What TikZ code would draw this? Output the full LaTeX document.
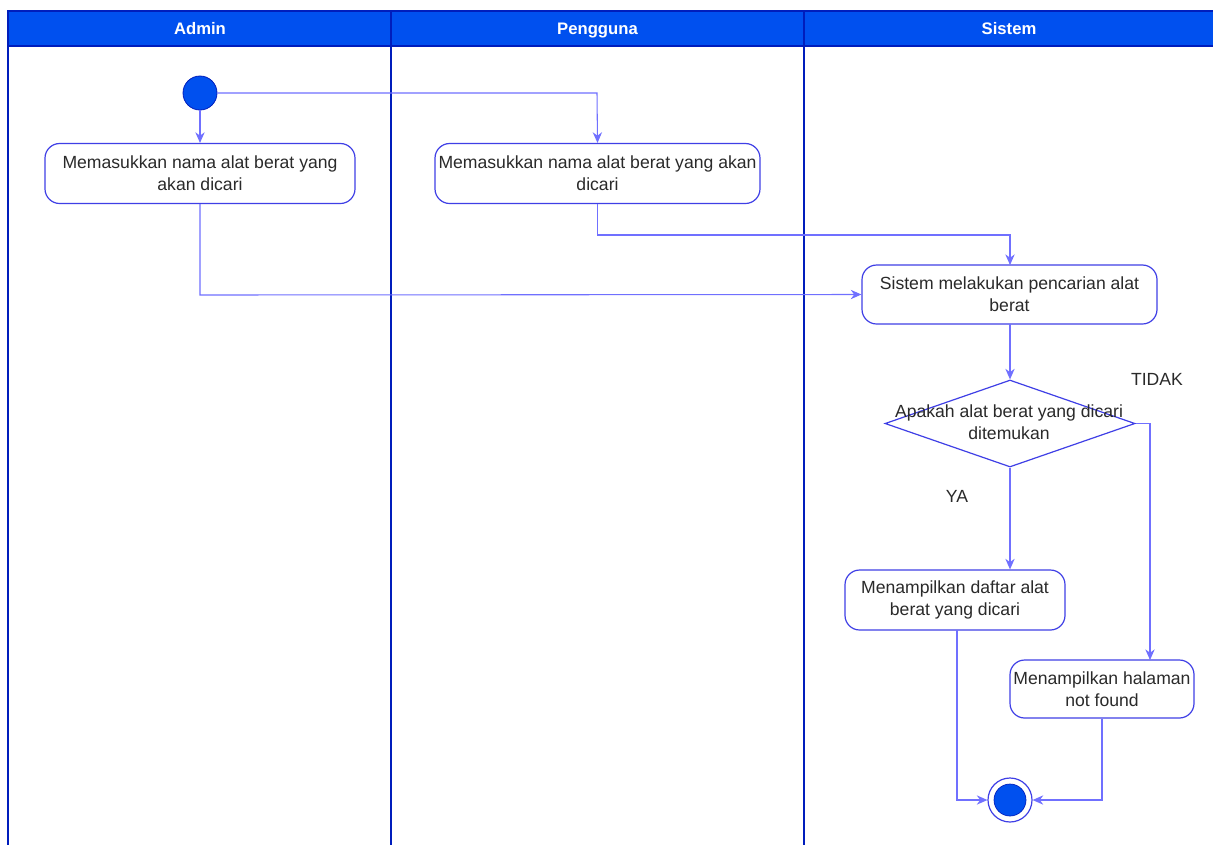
\documentclass[tikz,border=0pt]{standalone}
\usepackage{fontspec}
\setmainfont{Liberation Sans}
\usetikzlibrary{shapes.geometric,arrows.meta}
\definecolor{hdr}{HTML}{0050EF}
\definecolor{hdrline}{HTML}{001DBC}
\definecolor{flow}{HTML}{7070FF}
\definecolor{boxline}{HTML}{3F3FE6}
\definecolor{txt}{HTML}{2A2A2A}
\tikzset{
  lanehdr/.style={draw=hdrline, fill=hdr, line width=0.8pt},
  lanebody/.style={draw=hdrline, line width=0.8pt},
  hdrtext/.style={text=white, font=\fontsize{12.5}{14}\selectfont\bfseries, text height=9pt, text depth=2.5pt},
  actbox/.style={draw=boxline, fill=white, rounded corners=11pt, line width=0.9pt,
    align=center, text=txt, inner sep=0pt, font=\fontsize{13.2}{16.5}\selectfont},
  decis/.style={draw=boxline, fill=white, diamond, line width=0.9pt, inner sep=0pt,
    minimum width=187.5pt, minimum height=65.25pt},
  lbl/.style={text=txt, font=\fontsize{13.2}{16.5}\selectfont, align=center},
  flowline/.style={draw=flow, line width=0.8pt, -{Stealth[length=8pt,width=7pt]}},
}
\begin{document}
\begin{tikzpicture}[x=0.75pt,y=-0.75pt]
\useasboundingbox (0,0) rectangle (1213,844);
\fill[white] (0,0) rectangle (1213,844);
% swimlanes
\draw[lanebody] (8,46) -- (8,845);
\draw[lanebody] (391,46) -- (391,845);
\draw[lanebody] (804,46) -- (804,845);
\draw[lanehdr] (8,11) rectangle (391,46);
\draw[lanehdr] (391,11) rectangle (804,46);
\draw[lanehdr] (804,11) rectangle (1214,46);
\node[hdrtext] (hA) at (200,30) {Admin};
\node[hdrtext] (hP) at (597.5,30) {Pengguna};
\node[hdrtext] (hS) at (1009,30) {Sistem};
% start
\node[circle, fill=hdr, draw=hdrline, line width=0.6pt, minimum size=25.5pt, inner sep=0pt] (start) at (200,93) {};
% activities
\node[actbox, minimum width=232.5pt, minimum height=45pt] (b1) at (200,173.5)
  {Memasukkan nama alat berat yang\\akan dicari};
\node[actbox, minimum width=243.75pt, minimum height=45pt] (b2) at (597.5,173.5)
  {Memasukkan nama alat berat yang akan\\dicari};
\node[actbox, minimum width=221.25pt, minimum height=44.25pt] (b3) at (1009.5,294.5)
  {Sistem melakukan pencarian alat\\berat};
\node[decis] (dia) at (1010,423.5) {};
\node[lbl] (diat) at (1009,422) {Apakah alat berat yang dicari\\ditemukan};
\node[actbox, minimum width=165pt, minimum height=45pt] (b4) at (955,600)
  {Menampilkan daftar alat\\berat yang dicari};
\node[actbox, minimum width=138pt, minimum height=43.5pt] (b5) at (1102,689)
  {Menampilkan halaman\\not found};
% end
\node[circle, draw=boxline, fill=white, line width=0.9pt, minimum size=33pt, inner sep=0pt] (end) at (1010,800) {};
\node[circle, fill=hdr, draw=hdrline, line width=0.5pt, minimum size=24pt, inner sep=0pt] (endin) at (1010,800) {};
% labels
\node[lbl] (ya) at (957,496) {YA};
\node[lbl] (tidak) at (1157,379) {TIDAK};
% flows
\draw[flowline] (start) -- (b1);
\draw[flowline] (start.east) -- (597,93) -- (b2.north);
\draw[flowline] (b1.south) -- (200,295) -- (b3.west);
\draw[flowline] (b2.south) -- (597.5,235) -- (1010,235) -- (1010,265);
\draw[flowline] (1010,324) -- (dia.north);
\draw[flowline] (dia.south) -- (dia.south |- b4.north);
\draw[flowline] (dia.east) -- (1150,423.5) -- (1150,660);
\draw[flowline] (957,630) -- (957,800) -- (end.west);
\draw[flowline] (b5.south) -- (1102,800) -- (end.east);
\end{tikzpicture}
\end{document}
